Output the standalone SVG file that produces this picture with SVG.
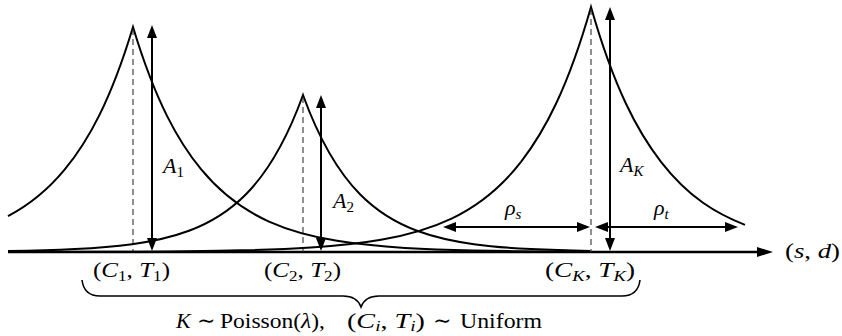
<svg xmlns="http://www.w3.org/2000/svg" width="842" height="336" viewBox="0 0 842 336">
<style>
.curve{fill:none;stroke:#000;stroke-width:2}
.dash{fill:none;stroke:#333;stroke-width:1.1;stroke-dasharray:6 4}
.arr{fill:none;stroke:#000;stroke-width:2;marker-start:url(#ah);marker-end:url(#ah)}
.axis{fill:none;stroke:#000;stroke-width:2.4;marker-end:url(#ah2)}
.brace{fill:none;stroke:#000;stroke-width:1.6}
text{font-family:"Liberation Serif","DejaVu Serif",serif;font-size:22px;fill:#000}
.i{font-style:italic}
.sub{font-size:15px}
</style>
<defs>
<marker id="ah" markerUnits="userSpaceOnUse" markerWidth="13" markerHeight="11" refX="9" refY="5" orient="auto-start-reverse" viewBox="0 0 13 10">
<path d="M0,0 L13,5 L0,10 z" fill="#000"/>
</marker>
<marker id="ah2" markerUnits="userSpaceOnUse" markerWidth="16" markerHeight="11" refX="2" refY="5" orient="auto" viewBox="0 0 16 10">
<path d="M0,0 L16,5 L0,10 z" fill="#000"/>
</marker>
</defs>

<g id="axis">
<line class="axis" x1="8" y1="252" x2="759" y2="252"/>
<text x="785" y="258" textLength="55" lengthAdjust="spacingAndGlyphs">(<tspan class="i">s</tspan>, <tspan class="i">d</tspan>)</text>
</g>

<g id="peak-1">
<path class="curve" d="M8 216.2 C27 206.2 46 192.35 65 169.22 C87.67 141.63 110.33 102 133 27 C155.67 102 178.33 141.63 201 169.22 C223.67 196.81 246.33 211.4 269 221.55 C291.67 231.7 314.33 237.07 337 240.8 C359.67 244.53 382.33 246.51 405 247.88 C427.67 249.25 450.33 249.98 473 250.48 C495.67 250.99 518.33 251.26 541 251.44 L590 251.73"/>
<line class="dash" x1="133" y1="29" x2="133" y2="252"/>
</g>

<g id="peak-2">
<path class="curve" d="M8 251.12 C30.33 250.78 52.67 250.25 75 249.12 C94 248.16 113 246.79 132 244.18 C151 241.57 170 237.83 189 230.75 C208 223.67 227 213.49 246 194.24 C265 174.99 284 147.33 303 95 C322 147.33 341 174.99 360 194.24 C379 213.49 398 223.67 417 230.75 C436 237.83 455 241.57 474 244.18 C493 246.79 512 248.16 531 249.12 C550.67 250.11 570.33 250.63 590 250.98"/>
<line class="dash" x1="303" y1="97" x2="303" y2="252"/>
</g>

<g id="peak-K">
<path class="curve" d="M8 251.95 L101 251.78 C124.33 251.7 147.67 251.6 171 251.39 C194.33 251.19 217.67 250.9 241 250.35 C264.33 249.8 287.67 249.01 311 247.51 C334.33 246.01 357.67 243.87 381 239.8 C404.33 235.73 427.67 229.89 451 218.84 C474.33 207.79 497.67 191.91 521 161.87 C544.33 131.83 567.67 88.67 591 7 C614.33 88.67 637.67 131.83 661 161.87 C689 197.92 717 213.99 745 224.85"/>
<line class="dash" x1="591" y1="9" x2="591" y2="252"/>
</g>

<g id="connectors">
<line class="arr" x1="152" y1="29" x2="152" y2="247"/>
<line class="arr" x1="321" y1="99" x2="321" y2="247"/>
<line class="arr" x1="610" y1="11" x2="610" y2="247"/>
<line class="arr" x1="447" y1="227" x2="586" y2="227"/>
<line class="arr" x1="599" y1="227" x2="734" y2="227"/>
</g>

<g id="labels">
<text x="163" y="173"><tspan class="i">A</tspan><tspan class="sub" dy="4">1</tspan></text>
<text x="333" y="208"><tspan class="i">A</tspan><tspan class="sub" dy="4">2</tspan></text>
<text x="620" y="172"><tspan class="i">A</tspan><tspan class="sub i" dy="4">K</tspan></text>
<text x="505" y="215"><tspan class="i">ρ</tspan><tspan class="sub i" dy="4">s</tspan></text>
<text x="654" y="215"><tspan class="i">ρ</tspan><tspan class="sub i" dy="4">t</tspan></text>
<text x="93" y="277" textLength="77" lengthAdjust="spacingAndGlyphs">(<tspan class="i">C</tspan><tspan class="sub" dy="4">1</tspan><tspan dy="-4">, </tspan><tspan class="i">T</tspan><tspan class="sub" dy="4">1</tspan><tspan dy="-4">)</tspan></text>
<text x="264" y="277" textLength="77" lengthAdjust="spacingAndGlyphs">(<tspan class="i">C</tspan><tspan class="sub" dy="4">2</tspan><tspan dy="-4">, </tspan><tspan class="i">T</tspan><tspan class="sub" dy="4">2</tspan><tspan dy="-4">)</tspan></text>
<text x="545" y="277" textLength="90" lengthAdjust="spacingAndGlyphs">(<tspan class="i">C</tspan><tspan class="sub i" dy="4">K</tspan><tspan dy="-4">, </tspan><tspan class="i">T</tspan><tspan class="sub i" dy="4">K</tspan><tspan dy="-4">)</tspan></text>
</g>

<g id="brace">
<path class="brace" d="M82 280 Q84 296 100 296 L343 296 Q357 296 361 307 Q365 296 379 296 L622 296 Q638 296 640 280"/>
<text class="i" x="176" y="328">K</text>
<text x="197" y="328">∼</text>
<text x="220" y="328" textLength="105" lengthAdjust="spacingAndGlyphs">Poisson(<tspan class="i">λ</tspan>),</text>
<text x="347" y="328" textLength="78" lengthAdjust="spacingAndGlyphs">(<tspan class="i">C</tspan><tspan class="sub i" dy="3">i</tspan><tspan dy="-3">, </tspan><tspan class="i">T</tspan><tspan class="sub i" dy="3">i</tspan><tspan dy="-3">)</tspan></text>
<text x="433" y="328">∼</text>
<text x="460" y="328" textLength="82" lengthAdjust="spacingAndGlyphs">Uniform</text>
</g>
</svg>
